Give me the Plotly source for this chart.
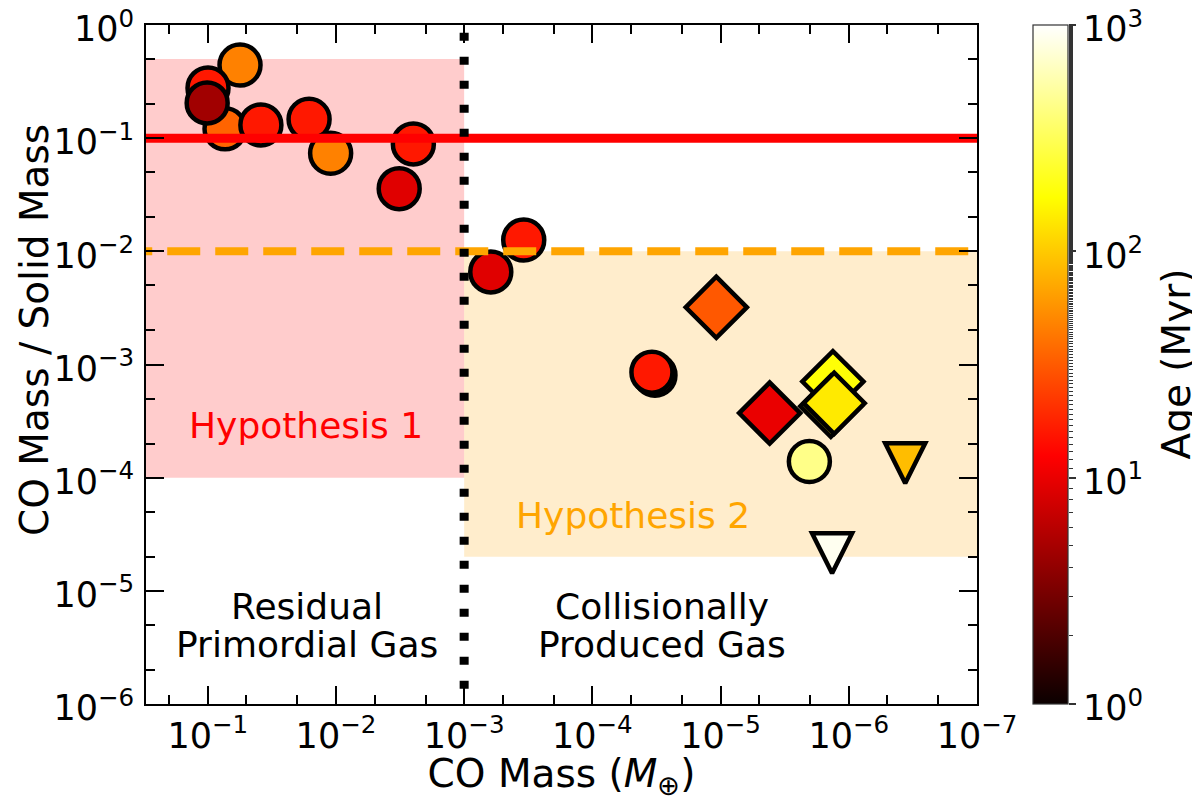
import numpy as np
import plotly.graph_objects as go

# ---------------- data ----------------
# circles
circ_co_mass = [0.056, 0.0733, 0.0995, 0.101, 0.0385, 0.0162, 0.011, 0.00249, 0.00321,
                6.2e-4, 3.43e-4, 3.25e-5, 3.43e-5, 2.03e-6]
circ_ratio = [0.443, 0.121, 0.278, 0.205, 0.131, 0.147, 0.0736, 0.0889, 0.0358,
              0.00658, 0.0126, 8.05e-4, 8.55e-4, 1.39e-4]
circ_age = [47, 35, 16, 4.7, 16, 16, 47, 16, 9, 9, 16, 16, 16, 440]

# diamonds
dia_co_mass = [1.08e-5, 4.14e-6, 1.33e-6, 1.38e-6, 1.30e-6]
dia_ratio = [0.0032, 3.72e-4, 7.06e-4, 4.28e-4, 4.55e-4]
dia_age = [31, 10, 180, 160, 140]

# downward triangles (upper limits)
tri_co_mass = [3.63e-7, 1.35e-6]
tri_ratio = [1.34e-4, 2.15e-5]
tri_age = [88, 900]

# hypothesis regions and reference lines
hyp1_ratio = [1e-4, 0.5]
hyp2_ratio = [2e-5, 1e-2]
co_mass_divide = 1e-3
primordial_ratio = 0.1
collisional_ratio = 0.01

x_ticks_exp = [-1, -2, -3, -4, -5, -6, -7]
y_ticks_exp = [0, -1, -2, -3, -4, -5, -6]
age_ticks_exp = [0, 1, 2, 3]

# ---------------- styling ----------------
FONT = "DejaVu Sans"
OFF = 8                      # default page body margin
W, H = 1200 - OFF, 801 - OFF
L, T = 146 - OFF, 25 - OFF
PLOT_W, PLOT_H = 831, 679
R = 5
B = H - T - PLOT_H
PW = W - L - R
x_dom_end = PLOT_W / PW
cb_left = (1033 - 146) / PW
cb_right = (1068 - 146) / PW
age_title_x = (1176 - 146) / PW
ytitle_x = (34 - 146) / PW
ytitle_y = (704 - 330) / PLOT_H

hot = [[0.0, 'rgb(11,0,0)'], [0.365079, 'rgb(255,0,0)'],
       [0.746032, 'rgb(255,255,0)'], [1.0, 'rgb(255,255,255)']]

def sup(e):
    return "10<sup>%s</sup>" % (str(e).replace('-', '\u2212'))

fig = go.Figure()

# shaded hypothesis regions
fig.add_trace(go.Scatter(
    x=[1.0, co_mass_divide, co_mass_divide, 1.0, 1.0],
    y=[hyp1_ratio[1], hyp1_ratio[1], hyp1_ratio[0], hyp1_ratio[0], hyp1_ratio[1]],
    mode='lines', fill='toself', fillcolor='rgba(255,0,0,0.2)',
    line=dict(width=0), hoverinfo='skip', showlegend=False))
fig.add_trace(go.Scatter(
    x=[co_mass_divide, 1e-8, 1e-8, co_mass_divide, co_mass_divide],
    y=[hyp2_ratio[1], hyp2_ratio[1], hyp2_ratio[0], hyp2_ratio[0], hyp2_ratio[1]],
    mode='lines', fill='toself', fillcolor='rgba(255,165,0,0.2)',
    line=dict(width=0), hoverinfo='skip', showlegend=False))

marker_common = dict(colorscale=hot, cmin=0, cmax=3, line=dict(color='black', width=4.5))

fig.add_trace(go.Scatter(
    x=circ_co_mass, y=circ_ratio, mode='markers', showlegend=False,
    marker=dict(symbol='circle', size=41, color=np.log10(circ_age), showscale=True,
                colorbar=dict(x=cb_left, xanchor='left', xpad=0, ypad=0, y=0.5,
                              yanchor='middle', len=1, lenmode='fraction',
                              thickness=35, thicknessmode='pixels',
                              outlinewidth=1.2, outlinecolor='#333333',
                              showticklabels=False, ticks=''),
                **marker_common)))
fig.add_trace(go.Scatter(
    x=dia_co_mass, y=dia_ratio, mode='markers', showlegend=False,
    marker=dict(symbol='diamond', size=47, color=np.log10(dia_age), showscale=False,
                **marker_common)))
TRI_SIZE = 40
fig.add_trace(go.Scatter(
    x=tri_co_mass, y=tri_ratio, mode='markers', showlegend=False,
    marker=dict(symbol='arrow-down', size=TRI_SIZE, standoff=TRI_SIZE / 2,
                color=np.log10(tri_age), showscale=False,
                **marker_common)))

# reference lines (drawn above markers)
fig.add_trace(go.Scatter(x=[10, 1e-9], y=[primordial_ratio, primordial_ratio], mode='lines',
                         line=dict(color='red', width=9), hoverinfo='skip', showlegend=False))
fig.add_trace(go.Scatter(x=[0.49, 1e-9], y=[collisional_ratio, collisional_ratio], mode='lines',
                         line=dict(color='orange', width=8, dash='33px,15px'),
                         hoverinfo='skip', showlegend=False))
fig.add_trace(go.Scatter(x=[co_mass_divide, co_mass_divide], y=[1.39, 1e-7], mode='lines',
                         line=dict(color='black', width=9, dash='8px,16px'),
                         hoverinfo='skip', showlegend=False))

# helper trace for the colorbar tick axis
fig.add_trace(go.Scatter(x=[None], y=[None], yaxis='y2', mode='markers',
                         showlegend=False, hoverinfo='skip'))

tickfont = dict(family=FONT, size=35, color='black')
axis_common = dict(type='log', exponentformat='power', showexponent='all',
                   ticks='inside', ticklen=18, tickwidth=1.8, tickcolor='black',
                   minor=dict(ticks='inside', ticklen=9, tickwidth=1.5, tickcolor='black',
                              showgrid=False),
                   showline=True, linecolor='black', linewidth=1.8, mirror='ticks',
                   showgrid=False, zeroline=False, tickfont=tickfont,
                   ticklabeloverflow='allow', automargin=False)

fig.update_layout(
    width=W, height=H,
    margin=dict(l=L, r=R, t=T, b=B, autoexpand=False),
    paper_bgcolor='white', plot_bgcolor='white',
    font=dict(family=FONT, color='black'),
    xaxis=dict(range=[np.log10(0.303), -7], domain=[0, x_dom_end],
               tickvals=[10.0 ** e for e in x_ticks_exp],
               ticktext=[sup(e) for e in x_ticks_exp],
               title=dict(text='CO Mass (<i>M</i><sub>\u2295</sub>)',
                          font=dict(family=FONT, size=39, color='black'), standoff=13),
               **axis_common),
    yaxis=dict(range=[-6, 0], domain=[0, 1],
               tickvals=[10.0 ** e for e in y_ticks_exp],
               ticktext=[sup(e) for e in y_ticks_exp],
               ticklabelstandoff=3, ticklabelshift=4,
               **axis_common),
    yaxis2=dict(type='log', range=[0, 3], overlaying='y', anchor='free', position=cb_right,
                side='right', tickvals=[10.0 ** e for e in age_ticks_exp],
                ticktext=[sup(e) for e in age_ticks_exp],
                ticks='outside', ticklen=7, tickwidth=1.5, tickcolor='#333333',
                minor=dict(ticks='outside', ticklen=4, tickwidth=1.2, tickcolor='#333333',
                           showgrid=False),
                showgrid=False, zeroline=False, showline=False, tickfont=tickfont,
                ticklabelshift=4,
                ticklabeloverflow='allow', automargin=False),
)

# axis / colorbar labels
fig.add_annotation(x=ytitle_x, y=ytitle_y, xref='paper', yref='paper',
                   text='CO Mass / Solid Mass', textangle=-90, showarrow=False,
                   xanchor='center', yanchor='middle',
                   font=dict(family=FONT, size=39, color='black'))
fig.add_annotation(x=age_title_x, y=0.5, xref='paper', yref='paper', text='Age (Myr)',
                   textangle=-90, showarrow=False, xanchor='center', yanchor='middle',
                   font=dict(family=FONT, size=39, color='black'))

annots = [
    ('Hypothesis 1', -1.766, -3.54, 'red'),
    ('Hypothesis 2', -4.315, -4.33, 'orange'),
    ('Residual', -1.776, -5.14, 'black'),
    ('Primordial Gas', -1.776, -5.47, 'black'),
    ('Collisionally', -4.541, -5.14, 'black'),
    ('Produced Gas', -4.541, -5.47, 'black'),
]
for txt, lx, ly, col in annots:
    fig.add_annotation(x=lx, y=ly, xref='x', yref='y', text=txt, showarrow=False,
                       xanchor='center', yanchor='middle',
                       font=dict(family=FONT, size=36, color=col))

fig.write_html("out.html")
